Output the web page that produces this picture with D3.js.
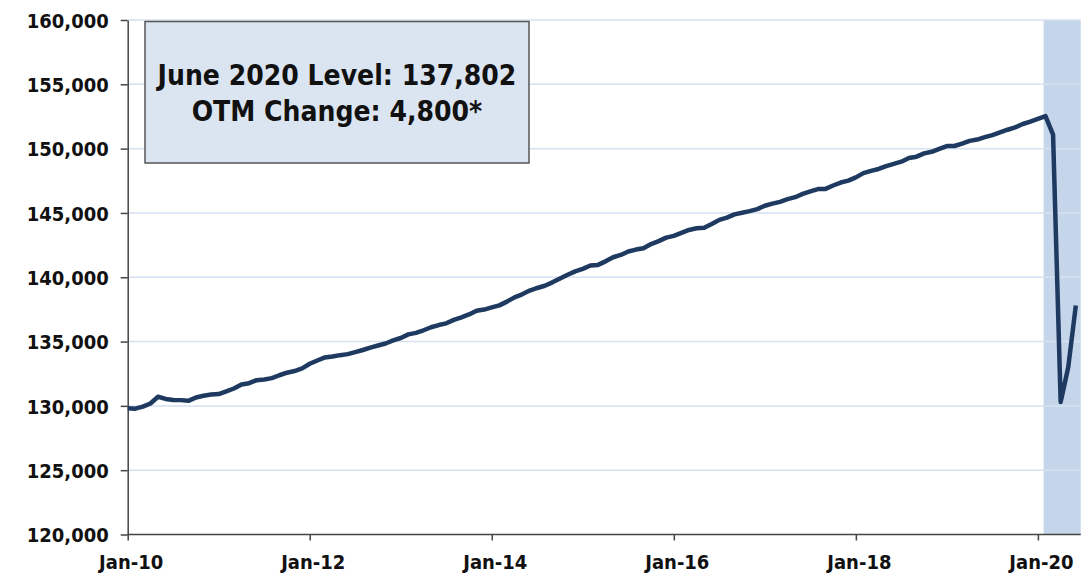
<!DOCTYPE html>
<meta charset="utf-8">
<style>
body { margin: 0; background: #fff; }
text { font-family: "DejaVu Sans Condensed", Tahoma, "DejaVu Sans", sans-serif; font-weight: bold; fill: #111; }
.grid line { stroke: #d5e1f1; stroke-width: 1.5; }
.axis path, .axis line { stroke: #444; stroke-width: 1.5; }
</style>
<body>
<script src="https://cdn.jsdelivr.net/npm/d3@7"></script>
<script>

// total nonfarm payrolls (thousands), monthly Jan-2010 .. Jun-2020
var payrolls = [
  129820, 129781, 129938, 130186, 130708, 130542, 130456, 130447, 130390, 130655, 130790, 130880,
  130922, 131126, 131352, 131662, 131763, 131997, 132051, 132159, 132381, 132578, 132708, 132915,
  133273, 133528, 133765, 133840, 133944, 134022, 134177, 134343, 134532, 134692, 134849, 135087,
  135277, 135560, 135676, 135877, 136112, 136284, 136418, 136688, 136883, 137108, 137399, 137488,
  137656, 137814, 138106, 138434, 138671, 138963, 139165, 139338, 139603, 139901, 140193, 140456,
  140653, 140914, 140961, 141237, 141557, 141734, 142000, 142152, 142258, 142583, 142808, 143079,
  143218, 143453, 143676, 143809, 143849, 144136, 144460, 144639, 144887, 145013, 145143, 145301,
  145559, 145726, 145862, 146069, 146224, 146478, 146674, 146852, 146870, 147134, 147362, 147511,
  147767, 148097, 148264, 148418, 148642, 148820, 148985, 149267, 149375, 149628, 149752, 149980,
  150202, 150203, 150388, 150604, 150706, 150888, 151054, 151261, 151469, 151654, 151915, 152099,
  152313, 152523, 151090, 130303, 133002, 137802
];
var xTickLabels = ["Jan-10", "Jan-12", "Jan-14", "Jan-16", "Jan-18", "Jan-20"];
var xTickMonths = [0, 24, 48, 72, 96, 120];
var yTicks = [120000, 125000, 130000, 135000, 140000, 145000, 150000, 155000, 160000];
var shadeStartMonth = 120.75;   // recession shading from Feb-2020
var boxLines = ["June 2020 Level: 137,802", "OTM Change: 4,800*"];

// plot area
var margin = {left: 127.7, top: 20, bottom: 534.5},
    endMonth = 125.65,
    width = 1091, height = 574;

var svg = d3.select("body").append("svg")
    .attr("width", width)
    .attr("height", height);

var x = d3.scaleLinear().domain([0, 120]).range([margin.left, margin.left + 120 * 7.585]);
var y = d3.scaleLinear().domain([120000, 160000]).range([margin.bottom, margin.top]);

// recession shading
svg.append("rect")
    .attr("x", x(shadeStartMonth))
    .attr("y", y(160000))
    .attr("width", x(endMonth) - x(shadeStartMonth))
    .attr("height", y(120000) - y(160000))
    .attr("fill", "#c6d6ea");

// gridlines
svg.append("g")
    .attr("class", "grid")
    .selectAll("line")
    .data(yTicks.slice(1))
    .enter().append("line")
    .attr("x1", x(0)).attr("x2", x(endMonth))
    .attr("y1", function(d) { return y(d); })
    .attr("y2", function(d) { return y(d); });

// y axis
var yAxis = svg.append("g")
    .attr("class", "axis")
    .attr("transform", "translate(" + margin.left + ",0)")
    .call(d3.axisLeft(y).tickValues(yTicks).tickSize(7).tickSizeOuter(0).tickPadding(12)
        .tickFormat(d3.format(",")));
yAxis.selectAll("text").style("font-size", "20px").attr("dy", "0.36em");

// x axis
var xAxis = svg.append("g")
    .attr("class", "axis")
    .attr("transform", "translate(0," + margin.bottom + ")")
    .call(d3.axisBottom(x).tickValues(xTickMonths).tickSize(6).tickSizeOuter(0).tickPadding(14)
        .tickFormat(function(d, i) { return xTickLabels[i]; }));
xAxis.selectAll("text").style("font-size", "20px").attr("dx", "3");
xAxis.select(".domain").attr("d", "M" + x(0) + ",0H" + x(endMonth));

// payroll line
var line = d3.line()
    .x(function(d, i) { return x(i); })
    .y(function(d) { return y(d); });

svg.append("path")
    .datum(payrolls)
    .attr("fill", "none")
    .attr("stroke", "#1f3a60")
    .attr("stroke-width", 4.5)
    .attr("stroke-linejoin", "round")
    .attr("d", line);

// annotation box
svg.append("rect")
    .attr("x", 145).attr("y", 21.5)
    .attr("width", 384).attr("height", 141.5)
    .attr("fill", "#dbe5f1")
    .attr("stroke", "#555")
    .attr("stroke-width", 1.5);

svg.selectAll(".boxtext")
    .data(boxLines)
    .enter().append("text")
    .attr("class", "boxtext")
    .attr("x", 337)
    .attr("y", function(d, i) { return 85 + i * 36; })
    .attr("text-anchor", "middle")
    .style("font-size", "28px")
    .text(function(d) { return d; });

</script>
</body>
